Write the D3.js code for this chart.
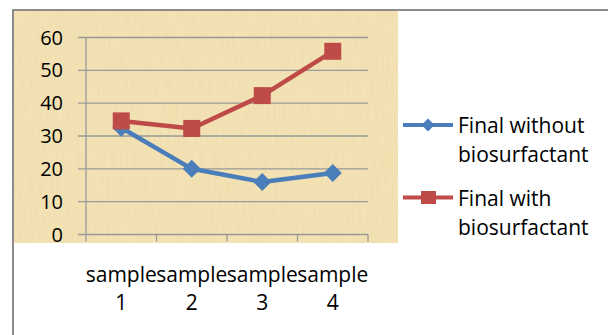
<!DOCTYPE html>
<html>
<head>
<meta charset="utf-8">
<script src="https://cdn.jsdelivr.net/npm/d3@7"></script>
<style>
  body { margin: 0; background: #fff; }
  svg { display: block; font-family: "Open Sans", sans-serif; }
</style>
</head>
<body>
<div id="chart"></div>
<script>
// data
const categories = ["sample 1", "sample 2", "sample 3", "sample 4"];
const withoutBio = [32.5, 20, 16, 18.7];
const withBio = [34.6, 32.3, 42.3, 55.8];
const seriesNames = ["Final without biosurfactant", "Final with biosurfactant"];
const yTicks = [0, 10, 20, 30, 40, 50, 60];

const width = 608;
const height = 335;
const plot = { left: 86, right: 368, top: 37.5, bottom: 234.5 };

const svg = d3.select("#chart")
    .append("svg")
    .attr("width", width)
    .attr("height", height);

// papyrus-like texture
const defs = svg.append("defs");
const filt = defs.append("filter").attr("id", "paper")
    .attr("x", 0).attr("y", 0).attr("width", 1).attr("height", 1);
filt.append("feTurbulence")
    .attr("type", "fractalNoise")
    .attr("baseFrequency", "0.5 0.04")
    .attr("numOctaves", 3)
    .attr("seed", 4)
    .attr("result", "noise");
filt.append("feColorMatrix")
    .attr("type", "matrix")
    .attr("values", "0 0 0 0 0.7  0 0 0 0 0.55  0 0 0 0 0.25  0 0 0 0.3 -0.1");

svg.append("rect")
    .attr("x", 14).attr("y", 11)
    .attr("width", 384).attr("height", 232)
    .attr("fill", "#f3e2b4");
svg.append("rect")
    .attr("x", 14).attr("y", 11)
    .attr("width", 384).attr("height", 232)
    .attr("filter", "url(#paper)");

// outer frame
svg.append("path")
    .attr("d", `M13,${height} V10 H${width}`)
    .attr("fill", "none")
    .attr("stroke", "#8c8c8c")
    .attr("stroke-width", 2);

const x = d3.scaleBand()
    .domain(categories)
    .range([plot.left, plot.right]);

const y = d3.scaleLinear()
    .domain([0, 60])
    .range([plot.bottom, plot.top]);

// gridlines
svg.append("g")
    .selectAll("line")
    .data(yTicks)
    .enter()
    .append("line")
    .attr("x1", plot.left - 8)
    .attr("x2", plot.right)
    .attr("y1", d => y(d))
    .attr("y2", d => y(d))
    .attr("stroke", "#999")
    .attr("stroke-width", 1.3);

// y axis line
svg.append("line")
    .attr("x1", plot.left).attr("x2", plot.left)
    .attr("y1", plot.top).attr("y2", plot.bottom)
    .attr("stroke", "#999")
    .attr("stroke-width", 1.3);

// x ticks
const xEdges = categories.map(c => x(c)).concat([plot.right]);
svg.append("g")
    .selectAll("line")
    .data(xEdges)
    .enter()
    .append("line")
    .attr("x1", d => d).attr("x2", d => d)
    .attr("y1", plot.bottom)
    .attr("y2", plot.bottom + 7)
    .attr("stroke", "#999")
    .attr("stroke-width", 1.3);

// y labels
svg.append("g")
    .selectAll("text")
    .data(yTicks)
    .enter()
    .append("text")
    .attr("x", 63)
    .attr("y", d => y(d) + 7)
    .attr("text-anchor", "end")
    .style("font-size", "20px")
    .attr("fill", "#000")
    .text(d => d);

// x labels (two lines)
const xl = svg.append("g")
    .selectAll("text")
    .data(categories)
    .enter()
    .append("text")
    .attr("text-anchor", "middle")
    .style("font-size", "21px")
    .attr("fill", "#000");
xl.append("tspan")
    .attr("x", d => x(d) + x.bandwidth() / 2)
    .attr("y", 281.5)
    .text(d => d.split(" ")[0]);
xl.append("tspan")
    .attr("x", d => x(d) + x.bandwidth() / 2)
    .attr("y", 310)
    .text(d => d.split(" ")[1]);

const cx = (d, i) => x(categories[i]) + x.bandwidth() / 2;
const line = d3.line()
    .x((d, i) => cx(d, i))
    .y(d => y(d));

const blue = "#4a7ebb";
const red = "#be4b48";

// blue series
svg.append("path")
    .datum(withoutBio)
    .attr("d", line)
    .attr("fill", "none")
    .attr("stroke", blue)
    .attr("stroke-width", 4.5)
    .attr("stroke-linejoin", "round");
svg.append("g")
    .selectAll("path")
    .data(withoutBio)
    .enter()
    .append("path")
    .attr("d", "M0,-9 L9,0 L0,9 L-9,0 Z")
    .attr("transform", (d, i) => `translate(${cx(d, i)},${y(d)})`)
    .attr("fill", blue);

// red series
svg.append("path")
    .datum(withBio)
    .attr("d", line)
    .attr("fill", "none")
    .attr("stroke", red)
    .attr("stroke-width", 4.5)
    .attr("stroke-linejoin", "round");
svg.append("g")
    .selectAll("rect")
    .data(withBio)
    .enter()
    .append("rect")
    .attr("x", (d, i) => cx(d, i) - 8.5)
    .attr("y", d => y(d) - 8.5)
    .attr("width", 17)
    .attr("height", 17)
    .attr("fill", red);

// legend
const legendItems = [
    { name: seriesNames[0], color: blue, marker: "diamond", y: 125 },
    { name: seriesNames[1], color: red, marker: "square", y: 197.5 }
];
const lg = svg.append("g")
    .selectAll("g")
    .data(legendItems)
    .enter()
    .append("g")
    .attr("transform", d => `translate(0,${d.y})`);

lg.append("line")
    .attr("x1", 403).attr("x2", 453)
    .attr("y1", 0).attr("y2", 0)
    .attr("stroke", d => d.color)
    .attr("stroke-width", 4);

lg.filter(d => d.marker === "diamond")
    .append("path")
    .attr("d", "M428,-6.5 L434.5,0 L428,6.5 L421.5,0 Z")
    .attr("fill", d => d.color);

lg.filter(d => d.marker === "square")
    .append("rect")
    .attr("x", 421).attr("y", -6.5)
    .attr("width", 15).attr("height", 13)
    .attr("fill", d => d.color);

const lt = lg.append("text")
    .style("font-size", "21px")
    .attr("fill", "#000");
lt.append("tspan")
    .attr("x", 458).attr("y", 8)
    .text(d => d.name.replace(" biosurfactant", ""));
lt.append("tspan")
    .attr("x", 458).attr("y", 37)
    .text("biosurfactant");
</script>
</body>
</html>
